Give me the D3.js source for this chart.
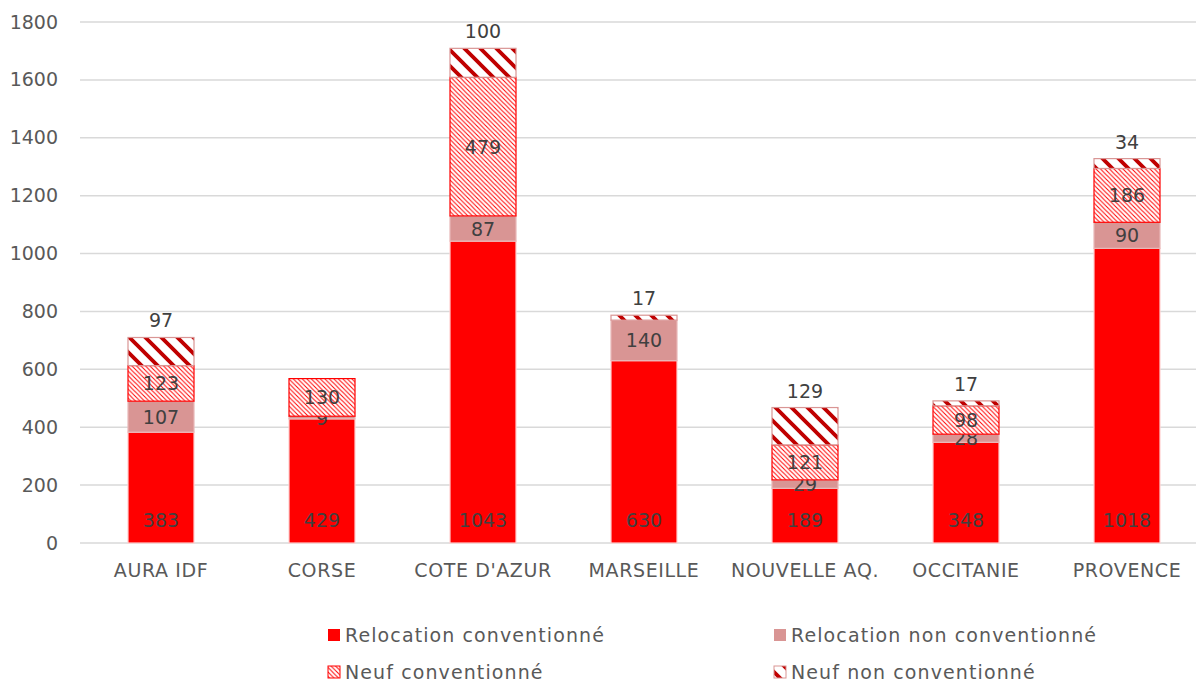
<!DOCTYPE html>
<html>
<head>
<meta charset="utf-8">
<script src="https://cdn.jsdelivr.net/npm/d3@7"></script>
<style>
  body { margin: 0; background: #fff; }
  text { font-family: "DejaVu Sans", Verdana, sans-serif; }
</style>
</head>
<body>
<div class="canvas"></div>
<script>
// categories and series values
const categories = ['AURA IDF', 'CORSE', "COTE D'AZUR", 'MARSEILLE', 'NOUVELLE AQ.', 'OCCITANIE', 'PROVENCE'];
const relocConv = [383, 429, 1043, 630, 189, 348, 1018];
const relocNonConv = [107, 9, 87, 140, 29, 28, 90];
const neufConv = [123, 130, 479, 0, 121, 98, 186];
const neufNonConv = [97, 0, 100, 17, 129, 17, 34];
const seriesNames = ['Relocation conventionné', 'Relocation non conventionné', 'Neuf conventionné', 'Neuf non conventionné'];
const yTicks = [0, 200, 400, 600, 800, 1000, 1200, 1400, 1600, 1800];

const W = 1196, H = 684;
const FONT = '"DejaVu Sans", Verdana, sans-serif';
const svg = d3.select('.canvas').append('svg')
  .attr('width', W).attr('height', H);

// hatch patterns for the two "Neuf" series
const defs = svg.append('defs');
function hatch(id, p, color, sw) {
  const pat = defs.append('pattern')
    .attr('id', id)
    .attr('patternUnits', 'userSpaceOnUse')
    .attr('width', p).attr('height', p);
  pat.append('rect').attr('width', p).attr('height', p).attr('fill', '#fff');
  pat.append('path')
    .attr('d', `M-2,-2 L${p + 2},${p + 2} M${p - 2},-2 L${p + 2},2 M-2,${p - 2} L2,${p + 2}`)
    .attr('stroke', color).attr('stroke-width', sw);
}
hatch('fine', 4.5, '#ff0000', 1.0);
hatch('wide', 16, '#c00000', 3.8);

const fills = ['#ff0000', '#d99594', 'url(#fine)', 'url(#wide)'];
const strokes = ['#ffd0d0', '#e8b8b8', '#ff0000', '#d99594'];

const x = d3.scaleBand()
  .domain(categories)
  .range([80.5, 1207.5])
  .paddingInner(0.59)
  .paddingOuter(0.295);

const y = d3.scaleLinear().domain([0, 1800]).range([543, 22]);

// gridlines
svg.append('g').selectAll('line')
  .data(yTicks).enter().append('line')
  .attr('x1', 80).attr('x2', W)
  .attr('y1', d => y(d)).attr('y2', d => y(d))
  .attr('stroke', '#d9d9d9').attr('stroke-width', 1.5);

// y axis labels
const yAxis = svg.append('g')
  .attr('transform', 'translate(58,0)')
  .call(d3.axisLeft(y).tickValues(yTicks).tickFormat(d3.format('d')).tickSize(0).tickPadding(0));
yAxis.select('.domain').remove();
yAxis.selectAll('text')
  .style('font-family', FONT)
  .attr('font-size', 19).attr('fill', '#595959');

// x axis labels
const xAxis = svg.append('g')
  .attr('transform', 'translate(0,563)')
  .call(d3.axisBottom(x).tickSize(0).tickPadding(0));
xAxis.select('.domain').remove();
xAxis.selectAll('text')
  .style('font-family', FONT)
  .attr('font-size', 19).attr('fill', '#595959')
  .attr('letter-spacing', 0.6);

// stack
const rows = categories.map((c, i) => ({
  cat: c, s0: relocConv[i], s1: relocNonConv[i], s2: neufConv[i], s3: neufNonConv[i]
}));
const stack = d3.stack().keys(['s0', 's1', 's2', 's3'])(rows);

const layers = svg.selectAll('g.layer')
  .data(stack).enter().append('g')
  .attr('class', 'layer');

layers.selectAll('rect')
  .data((d, k) => d.map(v => ({ v, k })).filter(e => e.v[1] - e.v[0] > 0))
  .enter().append('rect')
  .attr('x', e => x(e.v.data.cat))
  .attr('y', e => y(e.v[1]))
  .attr('width', x.bandwidth())
  .attr('height', e => y(e.v[0]) - y(e.v[1]))
  .attr('fill', e => fills[e.k])
  .attr('stroke', e => strokes[e.k])
  .attr('stroke-width', 1.2);

// data labels
layers.selectAll('text')
  .data((d, k) => d.map(v => ({ v, k })).filter(e => e.v[1] - e.v[0] > 0))
  .enter().append('text')
  .attr('text-anchor', 'middle')
  .attr('font-size', 19)
  .attr('fill', '#404040')
  .attr('x', e => x(e.v.data.cat) + x.bandwidth() / 2)
  .attr('y', e => {
    if (e.k === 0) return y(e.v[0]) - 16;
    if (e.k === 3) return y(e.v[1]) - 10;
    return (y(e.v[0]) + y(e.v[1])) / 2 + 7;
  })
  .text(e => e.v[1] - e.v[0]);

// legend
const legendPos = [[328, 635], [774, 635], [328, 672], [774, 672]];
const legend = svg.append('g').selectAll('g')
  .data(seriesNames).enter().append('g')
  .attr('transform', (d, i) => `translate(${legendPos[i][0]},${legendPos[i][1]})`);
legend.append('rect')
  .attr('x', 0).attr('y', -6).attr('width', 12).attr('height', 12)
  .attr('fill', (d, i) => fills[i])
  .attr('stroke', (d, i) => i >= 2 ? strokes[i] : 'none');
legend.append('text')
  .attr('x', 17).attr('y', 7)
  .attr('font-size', 19).attr('fill', '#595959')
  .attr('letter-spacing', 1.1)
  .text(d => d);
</script>
</body>
</html>
